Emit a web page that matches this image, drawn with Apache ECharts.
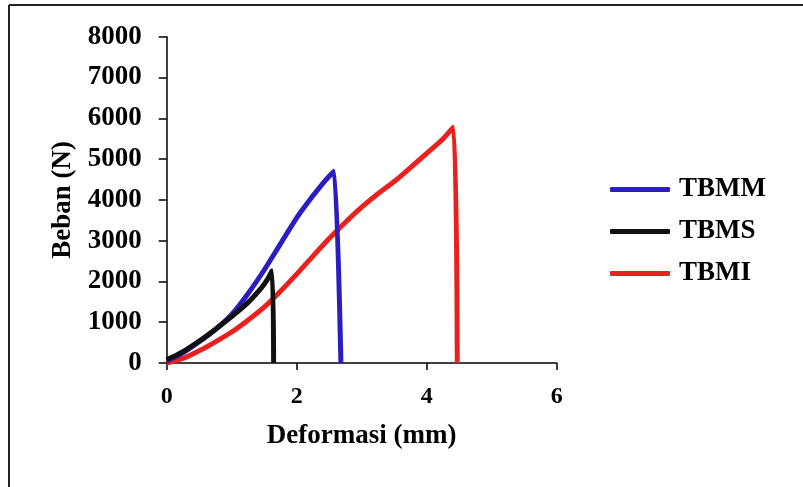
<!DOCTYPE html>
<html>
<head>
<meta charset="utf-8">
<script src="https://cdn.jsdelivr.net/npm/echarts@6/dist/echarts.min.js"></script>
<style>
  html, body { margin: 0; padding: 0; background: #ffffff; }
  #chart { width: 803px; height: 487px; }
</style>
</head>
<body>
<div id="chart"></div>
<script>
// ---- Data (x = Deformasi in mm, y = Beban in N) ----
const seriesNames = ['TBMM', 'TBMS', 'TBMI'];

const tbmmX = [0, 0.25, 0.5, 0.75, 1.0, 1.25, 1.5, 1.75, 2.0, 2.25, 2.4, 2.5, 2.575, 2.68];
const tbmmY = [50, 250, 520, 820, 1190, 1700, 2280, 2920, 3560, 4100, 4400, 4580, 4700, 0];

const tbmsX = [0, 0.25, 0.5, 0.75, 1.0, 1.25, 1.45, 1.55, 1.62, 1.645];
const tbmsY = [80, 280, 540, 830, 1140, 1480, 1830, 2050, 2260, 0];

const tbmiX = [0, 0.25, 0.5, 0.75, 1.0, 1.25, 1.5, 1.75, 2.0, 2.25, 2.5, 2.75, 3.0, 3.25, 3.5, 3.75, 4.0, 4.25, 4.41, 4.47];
const tbmiY = [0, 110, 300, 520, 760, 1050, 1370, 1760, 2180, 2620, 3050, 3450, 3820, 4150, 4450, 4790, 5140, 5490, 5780, 0];

const xTicks = { min: 0, max: 6, interval: 2 };
const yTicks = { min: 0, max: 8000, interval: 1000 };

const colors = ['#2a1ec2', '#111111', '#e8211f'];

function pairs(xs, ys) { return xs.map((x, i) => [x, ys[i]]); }

const FONT = '"Liberation Serif", "Times New Roman", serif';

const chart = echarts.init(document.getElementById('chart'), null, { renderer: 'canvas' });

const option = {
  animation: false,
  backgroundColor: '#ffffff',
  grid: { left: 166.7, right: 246.3, top: 36.7, bottom: 124, containLabel: false },
  xAxis: {
    type: 'value',
    min: xTicks.min, max: xTicks.max, interval: xTicks.interval,
    name: 'Deformasi (mm)',
    nameLocation: 'middle',
    nameGap: 60,
    nameTextStyle: { fontFamily: FONT, fontWeight: 'bold', fontSize: 27, color: '#000' },
    axisLine: { show: true, onZero: false, lineStyle: { color: '#000', width: 1.5 } },
    axisTick: { show: true, inside: false, length: 7, lineStyle: { color: '#000', width: 1.5 } },
    axisLabel: { fontFamily: FONT, fontWeight: 'bold', fontSize: 24, color: '#000', margin: 22,
      formatter: v => String(v) },
    splitLine: { show: false }
  },
  yAxis: {
    type: 'value',
    min: yTicks.min, max: yTicks.max, interval: yTicks.interval,
    name: 'Beban (N)',
    nameLocation: 'middle',
    nameGap: 90,
    nameRotate: 90,
    nameTextStyle: { fontFamily: FONT, fontWeight: 'bold', fontSize: 27, color: '#000' },
    axisLine: { show: true, lineStyle: { color: '#000', width: 1.5 } },
    axisTick: { show: true, inside: false, length: 8, lineStyle: { color: '#000', width: 1.5 } },
    axisLabel: { fontFamily: FONT, fontWeight: 'bold', fontSize: 27, color: '#000', margin: 25,
      formatter: v => String(v) },
    splitLine: { show: false }
  },
  legend: {
    orient: 'vertical',
    left: 605,
    top: 171,
    itemWidth: 60,
    itemHeight: 5,
    itemGap: 15,
    icon: 'roundRect',
    data: seriesNames,
    textStyle: { fontFamily: FONT, fontWeight: 'bold', fontSize: 27, color: '#000', padding: [0, 0, 0, 4] }
  },
  graphic: [
    { type: 'line', silent: true, shape: { x1: 9, y1: 5, x2: 803, y2: 5 }, style: { stroke: '#222', lineWidth: 2 } },
    { type: 'line', silent: true, shape: { x1: 9, y1: 5, x2: 9, y2: 487 }, style: { stroke: '#222', lineWidth: 2 } }
  ],
  series: [
    { name: seriesNames[0], type: 'line', data: pairs(tbmmX, tbmmY), showSymbol: false, smooth: 0.25, z: 3,
      lineStyle: { color: colors[0], width: 5 }, itemStyle: { color: colors[0] } },
    { name: seriesNames[1], type: 'line', data: pairs(tbmsX, tbmsY), showSymbol: false, smooth: 0.25, z: 4,
      lineStyle: { color: colors[1], width: 5 }, itemStyle: { color: colors[1] } },
    { name: seriesNames[2], type: 'line', data: pairs(tbmiX, tbmiY), showSymbol: false, smooth: 0.25, z: 2,
      lineStyle: { color: colors[2], width: 5 }, itemStyle: { color: colors[2] } }
  ]
};

chart.setOption(option);
</script>
</body>
</html>
